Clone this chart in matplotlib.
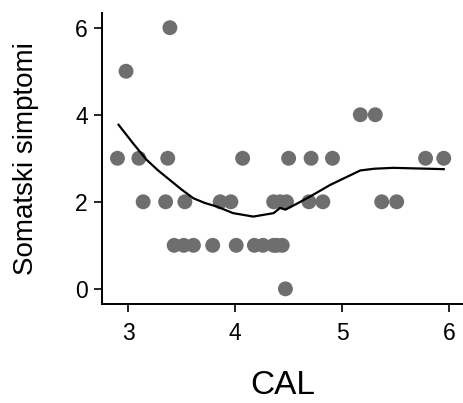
import numpy as np
import matplotlib.pyplot as plt

plt.rcParams["font.family"] = ["Liberation Sans", "DejaVu Sans"]

# scatter data
cal = [2.90, 2.98, 3.10, 3.37, 4.07, 3.39,
       3.14, 3.35, 3.53, 3.86, 3.96, 4.36, 4.42, 4.48, 4.69, 4.82, 5.37, 5.51,
       3.43, 3.52, 3.61, 3.79, 4.01, 4.18, 4.26, 4.36, 4.39, 4.44,
       5.17, 5.31, 4.50, 4.71, 4.91, 5.78, 5.95, 4.47]
symptoms = [3, 5, 3, 3, 3, 6,
            2, 2, 2, 2, 2, 2, 2, 2, 2, 2, 2, 2,
            1, 1, 1, 1, 1, 1, 1, 1, 1, 1,
            4, 4, 3, 3, 3, 3, 3, 0]

# smoothed curve
curve_x = [2.91, 3.05, 3.17, 3.28, 3.39, 3.50, 3.61, 3.72, 3.83, 3.98,
           4.17, 4.36, 4.42, 4.47, 4.58, 4.70, 4.89, 5.17, 5.30, 5.48, 5.95]
curve_y = [3.77, 3.33, 2.97, 2.72, 2.50, 2.28, 2.08, 1.97, 1.89, 1.74,
           1.66, 1.74, 1.86, 1.82, 1.96, 2.12, 2.39, 2.72, 2.76, 2.78, 2.75]

fig = plt.figure(figsize=(4.63, 4.03), dpi=100)
ax = fig.add_axes([0.22, 0.246, 0.78, 0.722])

ax.scatter(cal, symptoms, s=115, color="#6e6e6e", edgecolors="none", zorder=2)
ax.plot(curve_x, curve_y, color="black", linewidth=1.6, zorder=3)

ax.set_xlim(2.754, 6.13)
ax.set_ylim(-0.345, 6.34)
ax.set_xticks([3, 4, 5, 6])
ax.set_yticks([0, 2, 4, 6])

for side in ["top", "right"]:
    ax.spines[side].set_visible(False)
for side in ["left", "bottom"]:
    ax.spines[side].set_linewidth(1.4)

ax.tick_params(axis="both", length=6, width=1.2, labelsize=16.5)
ax.tick_params(axis="x", pad=7)
ax.tick_params(axis="y", pad=4)

ax.set_xlabel("CAL", fontsize=24, labelpad=18)
ax.set_ylabel("Somatski simptomi", fontsize=20, labelpad=26)

plt.savefig("out.png", dpi=100)
